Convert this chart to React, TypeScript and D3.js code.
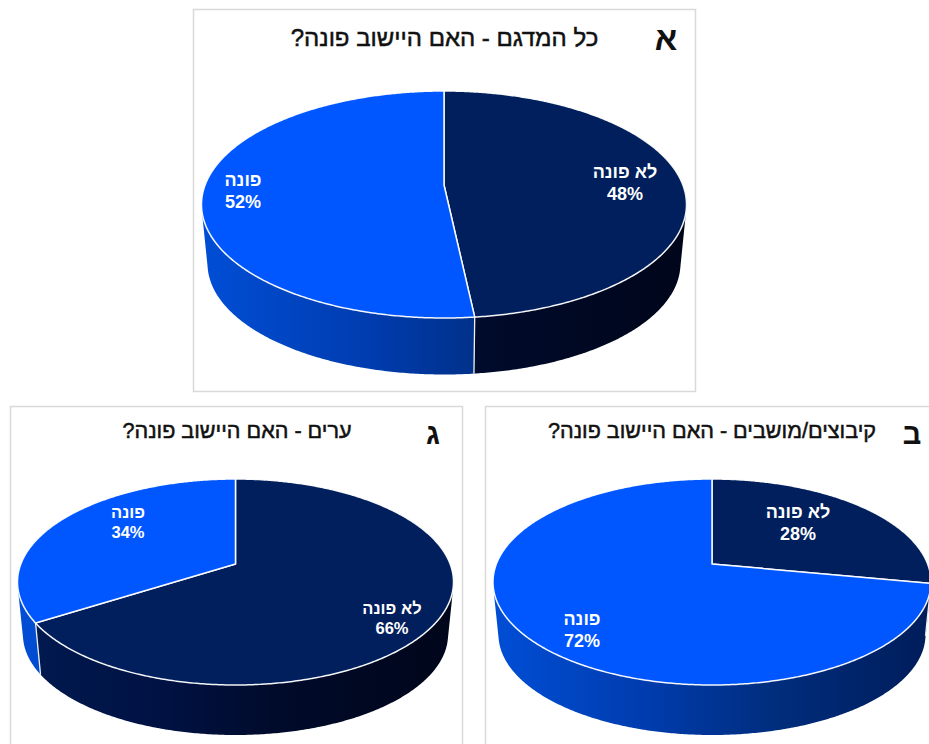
import React from 'react';
import * as d3 from 'd3';

const categories = ['לא פונה', 'פונה'];
const sampleValues = [48.3, 51.7];
const kibbutzValues = [28, 72];
const citiesValues = [66, 34];

const sampleTitle = 'כל המדגם - האם היישוב פונה?';
const kibbutzTitle = 'קיבוצים/מושבים - האם היישוב פונה?';
const citiesTitle = 'ערים - האם היישוב פונה?';

const colors = ['#001f5c', '#0057ff'];
// wall shading, left to right
const wallStops = [
  [[0, '#001a50'], [0.35, '#001142'], [0.6, '#000a2a'], [1, '#00061a']],
  [[0, '#004ed6'], [0.35, '#003cae'], [0.65, '#002d7c'], [1, '#001c5a']],
];

const rad = Math.PI / 180;
const WALL_FROM = 60 * rad;
const WALL_TO = 300 * rad;

interface Layout {
  id: string;
  values: number[];
  title: string;
  letter: string;
  frame: [number, number, number, number];
  cx: number;
  apexY: number;
  rx: number;
  rimTop: number;
  rimBottom: number;
  wallBottom: number;
  titleX: number;
  titleY: number;
  titleSize: number;
  letterX: number;
  letterY: number;
  letterSize: number;
  labelAt: [number, number][];
  labelSize: number;
}

const panels: Layout[] = [
  {
    id: 'a', values: sampleValues, title: sampleTitle, letter: 'א',
    frame: [193.5, 9.5, 502, 382],
    cx: 444, apexY: 185, rx: 242.5, rimTop: 91, rimBottom: 318, wallBottom: 374.5,
    titleX: 444.5, titleY: 46, titleSize: 24,
    letterX: 666, letterY: 50, letterSize: 33,
    labelAt: [[625, 178], [243, 186]], labelSize: 18,
  },
  {
    id: 'b', values: kibbutzValues, title: kibbutzTitle, letter: 'ב',
    frame: [485.5, 406.5, 502, 382],
    cx: 712, apexY: 564, rx: 219, rimTop: 479, rimBottom: 685, wallBottom: 735,
    titleX: 712, titleY: 438, titleSize: 21.6,
    letterX: 912, letterY: 444, letterSize: 29,
    labelAt: [[798, 518], [582, 625]], labelSize: 18,
  },
  {
    id: 'c', values: citiesValues, title: citiesTitle, letter: 'ג',
    frame: [10.5, 406.5, 452, 382],
    cx: 235.5, apexY: 564, rx: 218, rimTop: 479, rimBottom: 685, wallBottom: 735,
    titleX: 237, titleY: 438, titleSize: 21.6,
    letterX: 433, letterY: 444, letterSize: 29,
    labelAt: [[392, 614], [128, 518]], labelSize: 16.5,
  },
];

const pie = d3.pie<number>().sort(null).value((d) => d);

const Pie3D: React.FC<{ p: Layout }> = ({ p }) => {
  // perspective tilt of the disc, taken from how far the apex sits off the ellipse centre
  const up = p.apexY - p.rimTop;
  const down = p.rimBottom - p.apexY;
  const k = (down - up) / (down + up);
  const ry = up * (1 + k);
  const rx = p.rx * Math.sqrt(1 - k * k);
  const ellipseCy = (p.rimTop + p.rimBottom) / 2;
  const shrink = 0.975;
  const ellipseRy = (p.rimBottom - p.rimTop) / 2;
  const bottomCy = p.wallBottom - ellipseRy * shrink;

  const top = (a: number): [number, number] => {
    const X = Math.sin(a);
    const Y = -Math.cos(a);
    const w = 1 - k * Y;
    return [p.cx + (rx * X) / w, p.apexY + (ry * Y) / w];
  };
  const bottom = (a: number): [number, number] => {
    const [x, y] = top(a);
    return [p.cx + (x - p.cx) * shrink, bottomCy + (y - ellipseCy) * shrink];
  };
  const sweep = (from: number, to: number) => {
    const n = Math.max(2, Math.ceil((to - from) / (0.5 * rad)));
    return d3.range(n + 1).map((i) => from + ((to - from) * i) / n);
  };

  const line = d3.line();
  const arcs = pie(p.values);

  return (
    <g>
      <defs>
        {wallStops.map((stops, i) => (
          <linearGradient
            key={i}
            id={`wall-${p.id}-${i}`}
            gradientUnits="userSpaceOnUse"
            x1={p.cx - p.rx}
            x2={p.cx + p.rx}
            y1={0}
            y2={0}
          >
            {stops.map(([o, c]) => (
              <stop key={o as number} offset={o as number} stopColor={c as string} />
            ))}
          </linearGradient>
        ))}
      </defs>
      <rect
        x={p.frame[0]}
        y={p.frame[1]}
        width={p.frame[2]}
        height={p.frame[3]}
        fill="#fff"
        stroke="#d9d9d9"
        strokeWidth={1.5}
      />

      {arcs.map((d, i) => {
        const from = Math.max(d.startAngle, WALL_FROM);
        const to = Math.min(d.endAngle, WALL_TO);
        if (to <= from) return null;
        const angles = sweep(from, to);
        // one small quad per step: the band folds over itself at the silhouette,
        // hull gives every quad the same winding so they don't cancel out
        const quads = angles.slice(1).map((a, j) => {
          const quad = d3.polygonHull([top(angles[j]), top(a), bottom(a), bottom(angles[j])]);
          return line(quad as [number, number][]) + 'Z';
        });
        return <path key={i} d={quads.join('')} fill={`url(#wall-${p.id}-${i})`} />;
      })}
      {arcs
        .filter((d) => d.endAngle > WALL_FROM && d.endAngle < WALL_TO)
        .map((d, i) => (
          <path
            key={i}
            d={line([top(d.endAngle), bottom(d.endAngle)]) as string}
            stroke="#f0f0f0"
            strokeWidth={1.3}
            fill="none"
          />
        ))}

      {arcs.map((d, i) => (
        <path
          key={i}
          d={line([[p.cx, p.apexY], ...sweep(d.startAngle, d.endAngle).map(top)]) + 'Z'}
          fill={colors[i]}
          stroke="#fff"
          strokeOpacity={0.95}
          strokeWidth={1.5}
          strokeLinejoin="round"
        />
      ))}

      <text
        x={p.titleX}
        y={p.titleY}
        direction="rtl"
        textAnchor="middle"
        fontSize={p.titleSize}
        fill="#111"
        stroke="#111"
        strokeWidth={0.5}
      >
        {p.title}
      </text>
      <text
        x={p.letterX}
        y={p.letterY}
        direction="rtl"
        textAnchor="middle"
        fontSize={p.letterSize}
        fontWeight="bold"
        fill="#111"
      >
        {p.letter}
      </text>

      {arcs.map((d, i) => (
        <text
          key={i}
          x={p.labelAt[i][0]}
          y={p.labelAt[i][1]}
          textAnchor="middle"
          fontSize={p.labelSize}
          fontWeight="bold"
          fill="#fff"
        >
          <tspan direction="rtl">{categories[i]}</tspan>
          <tspan x={p.labelAt[i][0]} dy={p.labelSize * 1.22}>
            {d3.format('.0f')(d.value)}%
          </tspan>
        </text>
      ))}
    </g>
  );
};

export default function App() {
  return (
    <svg
      width={929}
      height={744}
      viewBox="0 0 929 744"
      style={{
        position: 'fixed',
        left: 0,
        top: 0,
        background: '#fff',
        fontFamily: '"Liberation Sans", Arial, sans-serif',
      }}
    >
      {panels.map((p) => (
        <Pie3D key={p.id} p={p} />
      ))}
    </svg>
  );
}
